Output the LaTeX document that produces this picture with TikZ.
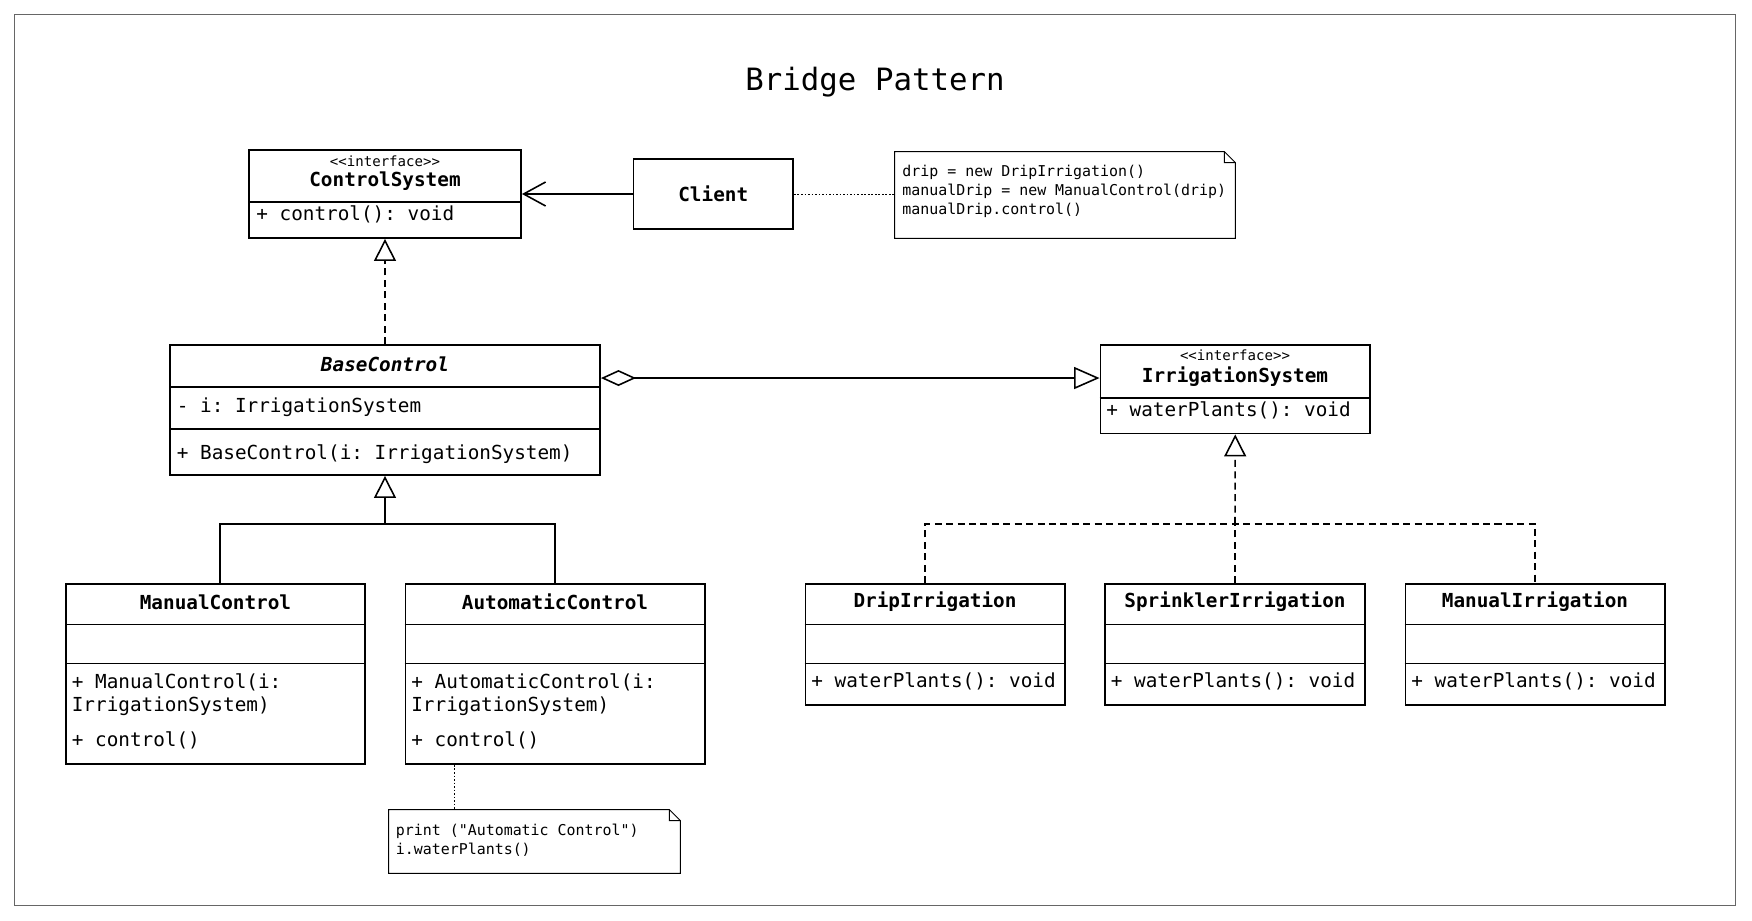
\documentclass[tikz,border=0pt]{standalone}
\usepackage{fontspec}
\setmonofont{DejaVu Sans Mono}
\renewcommand{\familydefault}{\ttdefault}
\usetikzlibrary{arrows.meta,fit}

\begin{document}
\begin{tikzpicture}[x=0.2mm,y=-0.2mm,
  cls/.style={draw,line width=1.1pt,inner sep=0pt},
  memobox/.style={inner sep=0pt},
  cname/.style={font=\bfseries\fontsize{11}{13}\selectfont},
  mbr/.style={anchor=west,inner sep=0pt,font=\fontsize{11}{13}\selectfont},
  stereo/.style={font=\fontsize{8}{10}\selectfont},
  memo/.style={anchor=north west,align=left,inner sep=0pt,font=\fontsize{8.5}{10.8}\selectfont},
  divider/.style={line width=0.6pt},
  dashline/.style={line width=0.9pt,dash pattern=on 4pt off 2.5pt},
  dotline/.style={line width=0.4pt,dash pattern=on 1pt off 1pt},
  realize/.style={dashline,-{Triangle[open,length=4.4mm,width=4.4mm]}},
  extend/.style={line width=0.9pt,-{Triangle[open,length=4.4mm,width=4.4mm]}},
]
\useasboundingbox (0,0) rectangle (1752,921);
\fill[white] (0,0) rectangle (1752,921);
\draw[line width=0.5pt,black!60] (14.5,14.5) rectangle (1735,905);

\node[font=\fontsize{17.5}{20}\selectfont] (title) at (875,82) {Bridge Pattern};

\node[cls,fit={(249,150) (521,238)}] (cs) {};
\draw[divider] (cs.west |- 0,202) -- (cs.east |- 0,202);
\node[stereo] (cs-st) at (385,161) {<{}<interface>{}>};
\node[cname] (cs-nm) at (385,181) {ControlSystem};
\node[mbr] (cs-op) at (256,214) {+ control(): void};

\node[cls,fit={(633.5,159) (793,229)}] (cl) {};
\node[cname] (cl-nm) at (cl) {Client};

\node[memobox,fit={(895,152) (1235,238)}] (n1) {};
\draw[line width=0.5pt] (n1.north west) -- ([xshift=-2.2mm]n1.north east) -- ([yshift=-2.2mm]n1.north east) -- (n1.south east) -- (n1.south west) -- cycle;
\draw[line width=0.5pt] ([xshift=-2.2mm]n1.north east) -- ++(0,11) -- ([yshift=-2.2mm]n1.north east);
\node[memo] (n1-tx) at (902,165) {drip = new DripIrrigation()\\manualDrip = new ManualControl(drip)\\manualDrip.control()};

\node[cls,fit={(170,345) (600,475)}] (bc) {};
\draw[divider] (bc.west |- 0,387) -- (bc.east |- 0,387);
\draw[divider] (bc.west |- 0,429) -- (bc.east |- 0,429);
\node[cname,font=\bfseries\itshape\fontsize{11}{13}\selectfont] (bc-nm) at (385,364) {BaseControl};
\node[mbr] (bc-at) at (176.5,407) {- i: IrrigationSystem};
\node[mbr] (bc-op) at (176.5,454) {+ BaseControl(i: IrrigationSystem)};

\node[cls,fit={(1100.5,345) (1370,433.5)}] (is) {};
\draw[divider] (is.west |- 0,398) -- (is.east |- 0,398);
\node[stereo] (is-st) at (1235,355) {<{}<interface>{}>};
\node[cname] (is-nm) at (1235,377) {IrrigationSystem};
\node[mbr] (is-op) at (1106,410) {+ waterPlants(): void};

\node[cls,fit={(66,584) (365,764)}] (mc) {};
\draw[divider] (mc.west |- 0,624.5) -- (mc.east |- 0,624.5);
\draw[divider] (mc.west |- 0,663.7) -- (mc.east |- 0,663.7);
\node[cname] (mc-nm) at (215.5,602) {ManualControl};
\node[mbr] (mc-op1) at (71.5,682) {+ ManualControl(i:};
\node[mbr] (mc-op2) at (71.5,706) {IrrigationSystem)};
\node[mbr] (mc-op3) at (71.5,740) {+ control()};

\node[cls,fit={(405.5,584) (705,764)}] (ac) {};
\draw[divider] (ac.west |- 0,624.5) -- (ac.east |- 0,624.5);
\draw[divider] (ac.west |- 0,663.7) -- (ac.east |- 0,663.7);
\node[cname] (ac-nm) at (555,602) {AutomaticControl};
\node[mbr] (ac-op1) at (411,682) {+ AutomaticControl(i:};
\node[mbr] (ac-op2) at (411,706) {IrrigationSystem)};
\node[mbr] (ac-op3) at (411,740) {+ control()};

\node[memobox,fit={(389,810) (680,873)}] (n2) {};
\draw[line width=0.5pt] (n2.north west) -- ([xshift=-2.2mm]n2.north east) -- ([yshift=-2.2mm]n2.north east) -- (n2.south east) -- (n2.south west) -- cycle;
\draw[line width=0.5pt] ([xshift=-2.2mm]n2.north east) -- ++(0,11) -- ([yshift=-2.2mm]n2.north east);
\node[memo] (n2-tx) at (395.5,824) {print (\char34 Automatic Control\char34)\\i.waterPlants()};

\node[cls,fit={(805.5,584) (1065,705)}] (di) {};
\draw[divider] (di.west |- 0,624.5) -- (di.east |- 0,624.5);
\draw[divider] (di.west |- 0,663.7) -- (di.east |- 0,663.7);
\node[cname] (di-nm) at (935,602) {DripIrrigation};
\node[mbr] (di-op) at (811,681) {+ waterPlants(): void};

\node[cls,fit={(1105,584) (1365,705)}] (si) {};
\draw[divider] (si.west |- 0,624.5) -- (si.east |- 0,624.5);
\draw[divider] (si.west |- 0,663.7) -- (si.east |- 0,663.7);
\node[cname] (si-nm) at (1235,602) {SprinklerIrrigation};
\node[mbr] (si-op) at (1110.5,681) {+ waterPlants(): void};

\node[cls,fit={(1405.5,584) (1665,705)}] (mi) {};
\draw[divider] (mi.west |- 0,624.5) -- (mi.east |- 0,624.5);
\draw[divider] (mi.west |- 0,663.7) -- (mi.east |- 0,663.7);
\node[cname] (mi-nm) at (1535,602) {ManualIrrigation};
\node[mbr] (mi-op) at (1411,681) {+ waterPlants(): void};

\draw[line width=0.9pt,-{Straight Barb[length=4.4mm,width=4.8mm]}] (cl) -- (cs);
\draw[dotline] (cl.east) -- (cl.east -| n1.west);
\draw[realize] (bc) -- (cs);

\coordinate (aggA) at ([yshift=-6.8mm]bc.north east);
\draw[line width=0.9pt,{Diamond[open,length=7mm,width=3.2mm]}-{Triangle[open,length=5.1mm,width=4.4mm]}] (aggA) -- (aggA -| is.west);

\coordinate (bcj) at (385,524);
\draw[line width=0.9pt] ([xshift=0.9mm]mc.north) |- (bcj) -| (ac.north);
\draw[extend] (bcj) -- (bc.south);

\coordinate (isj) at (1235,524);
\draw[dashline] ([xshift=-2mm]di.north) |- (isj) -| (mi.north);
\draw[dashline] (si.north) -- (isj);
\draw[realize] (isj) -- (is.south);

\coordinate (acn) at ([xshift=10mm]ac.south west);
\draw[dotline] (acn) -- (acn |- n2.north);
\end{tikzpicture}
\end{document}
